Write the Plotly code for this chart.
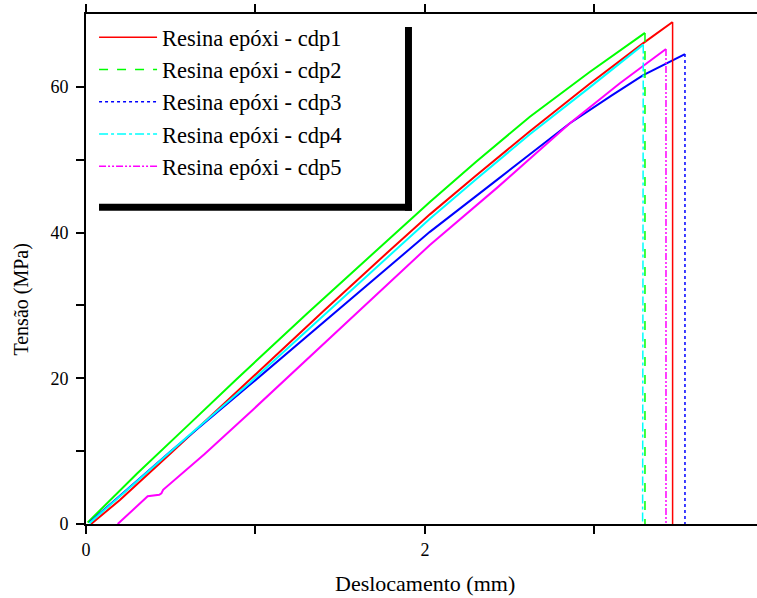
import plotly.graph_objects as go

# ---- data ----
names = ["Resina epóxi - cdp1", "Resina epóxi - cdp2", "Resina epóxi - cdp3",
         "Resina epóxi - cdp4", "Resina epóxi - cdp5"]

# displacement (mm) / stress (MPa); last point is the rupture (vertical drop to zero)
x_cdp1 = [0.03, 0.20, 0.50, 0.96, 1.40, 1.78, 2.029, 2.30, 2.619, 2.97, 3.288, 3.461, 3.461]
y_cdp1 = [0.0, 3.3, 9.7, 19.7, 29.2, 37.3, 42.5, 47.8, 53.9, 60.4, 66.0, 68.9, 0.0]

x_cdp2 = [0.01, 0.30, 0.60, 0.885, 1.30, 1.715, 2.029, 2.30, 2.619, 2.97, 3.15, 3.298, 3.298]
y_cdp2 = [0.2, 6.9, 13.5, 19.8, 28.8, 37.6, 44.2, 49.7, 55.9, 62.0, 65.0, 67.4, 0.0]

x_cdp3 = [0.02, 0.50, 0.967, 1.50, 2.029, 2.423, 2.855, 3.10, 3.288, 3.534, 3.534]
y_cdp3 = [0.2, 10.0, 19.1, 29.6, 40.1, 47.2, 55.0, 58.8, 61.6, 64.5, 0.0]

x_cdp4 = [0.02, 0.30, 0.60, 0.967, 1.40, 1.80, 2.029, 2.30, 2.619, 2.97, 3.288, 3.284]
y_cdp4 = [0.1, 5.9, 12.0, 19.4, 28.6, 37.0, 41.9, 47.3, 53.5, 59.9, 65.8, 0.0]

x_cdp5 = [0.187, 0.364, 0.432, 0.445, 0.455, 0.70, 0.99, 1.50, 2.029, 2.423, 2.855, 3.15, 3.422, 3.422]
y_cdp5 = [0.0, 3.8, 4.0, 4.2, 4.7, 9.6, 15.8, 26.9, 38.3, 46.1, 55.0, 60.5, 65.2, 0.0]

xs = [x_cdp1, x_cdp2, x_cdp3, x_cdp4, x_cdp5]
ys = [y_cdp1, y_cdp2, y_cdp3, y_cdp4, y_cdp5]

colors = ["#ff0000", "#00ff00", "#0000ff", "#00ffff", "#ff00ff"]
dashes = ["solid", "dash", "dot", "dashdot", "7px,2px,2px,2px,2px,2px"]

x_tickvals = [0, 1, 2, 3, 4]
x_ticktext = ["0", "", "2", "", "4"]
y_tickvals = [0, 10, 20, 30, 40, 50, 60]
y_ticktext = ["0", "", "20", "", "40", "", "60"]

FONT = "Liberation Serif, Times New Roman, serif"

fig = go.Figure()
for i in range(5):
    # loading curve (dense data -> appears solid)
    fig.add_trace(go.Scatter(x=xs[i][:-1], y=ys[i][:-1], mode="lines",
                             line=dict(color=colors[i], width=2),
                             showlegend=False, legendgroup=names[i],
                             hoverinfo="skip"))
for i in range(5):
    # rupture drop drawn in the series line style
    fig.add_trace(go.Scatter(x=xs[i][-2:], y=ys[i][-2:], mode="lines",
                             name=names[i], legendgroup=names[i],
                             line=dict(color=colors[i], width=1.5, dash=dashes[i])))

# legend shadow (paper coordinates)
shadow = [
    dict(x0=0.4754, x1=0.4858, y0=0.6141, y1=0.9745),
    dict(x0=0.0194, x1=0.4858, y0=0.6141, y1=0.6278),
]
for s in shadow:
    fig.add_shape(type="rect", xref="paper", yref="paper", layer="above",
                  fillcolor="black", line=dict(width=0), **s)

# axis titles placed as in the reference
fig.add_annotation(text="Tensão (MPa)", xref="paper", yref="paper",
                   x=-0.0954, y=0.44, xanchor="center", yanchor="middle",
                   textangle=-90, showarrow=False,
                   font=dict(family=FONT, size=20, color="black"))
fig.add_annotation(text="Deslocamento (mm)", xref="paper", yref="paper",
                   x=0.505, y=-0.117, xanchor="center", yanchor="middle",
                   showarrow=False,
                   font=dict(family=FONT, size=22, color="black"))

fig.update_layout(
    width=757, height=598,
    margin=dict(l=86, r=0, t=14, b=74),
    paper_bgcolor="white", plot_bgcolor="white",
    font=dict(family=FONT, color="black", size=18),
    showlegend=True,
    legend=dict(x=0.012, y=0.996, xanchor="left", yanchor="top",
                bgcolor="white", borderwidth=0,
                font=dict(family=FONT, size=22.5, color="black"),
                itemwidth=58, tracegroupgap=0),
    xaxis=dict(range=[0, 3.959], tickvals=x_tickvals, ticktext=x_ticktext,
               showline=True, linecolor="black", linewidth=2, mirror="ticks",
               ticks="outside", ticklen=8, tickwidth=2, tickcolor="black",
               showgrid=False, zeroline=False, automargin=False,
               tickfont=dict(family=FONT, size=18)),
    yaxis=dict(range=[0, 70], tickvals=y_tickvals, ticktext=y_ticktext,
               showline=True, linecolor="black", linewidth=2,
               ticks="outside", ticklen=8, tickwidth=2, tickcolor="black",
               showgrid=False, zeroline=False, ticklabelstandoff=4,
               automargin=False,
               tickfont=dict(family=FONT, size=18)),
)

fig.write_html("out.html")
